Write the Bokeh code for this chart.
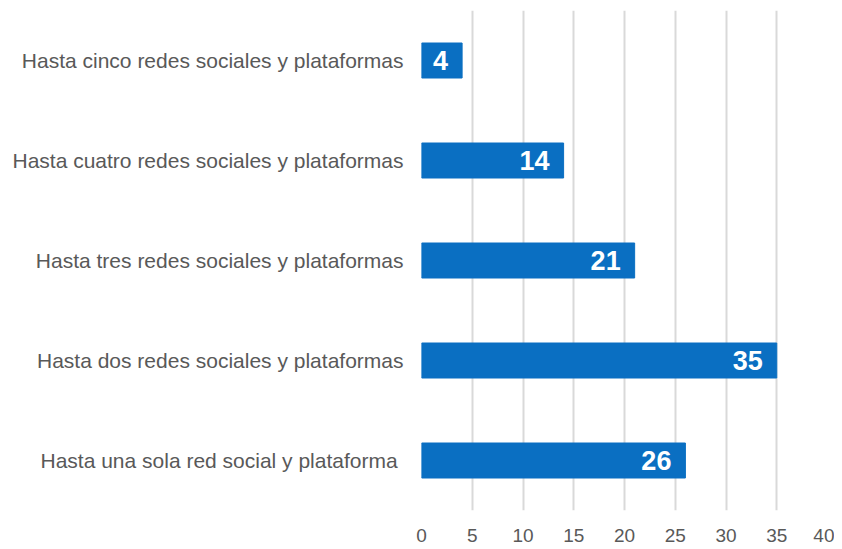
from bokeh.plotting import figure
from bokeh.models import ColumnDataSource, FactorRange, SingleIntervalTicker, LabelSet
from bokeh.core.properties import value
from bokeh.embed import file_html
from bokeh.resources import INLINE

categories = [
    "Hasta una sola  red social y plataforma",
    "Hasta dos redes sociales y plataformas",
    "Hasta tres redes sociales y plataformas",
    "Hasta cuatro redes sociales y plataformas",
    "Hasta cinco redes sociales y plataformas",
]
values = [26, 35, 21, 14, 4]
labels = [str(v) for v in values]

src = ColumnDataSource(dict(cat=categories, val=values, lab=labels))

p = figure(width=834, height=541, output_backend="svg", toolbar_location=None,
           y_range=FactorRange(*categories), x_range=(0, 40),
           min_border_left=421, min_border_right=7, min_border_top=10, min_border_bottom=31)
p.frame_width = 406
p.frame_height = 500

p.hbar(y="cat", right="val", left=0, height=0.35, source=src,
       fill_color="#0A6FC2", line_color="#0A6FC2")

p.add_layout(LabelSet(x="val", y="cat", text="lab", source=src, x_offset=-14,
                      text_align="right", text_baseline="middle",
                      text_color="white", text_font=value("Liberation Sans"),
                      text_font_style="bold", text_font_size="27px"))

p.outline_line_color = None
p.background_fill_color = "white"
p.border_fill_color = "white"

p.xaxis.ticker = SingleIntervalTicker(interval=5)
p.xaxis.axis_line_color = None
p.xaxis.major_tick_line_color = None
p.xaxis.minor_tick_line_color = None
p.xaxis.major_label_text_font = "Liberation Sans"
p.xaxis.major_label_text_font_size = "19px"
p.xaxis.major_label_text_color = "#595959"
p.xaxis.major_label_standoff = 12

p.yaxis.axis_line_color = None
p.yaxis.major_tick_line_color = None
p.yaxis.minor_tick_line_color = None
p.yaxis.major_label_text_font = "Liberation Sans"
p.yaxis.major_label_text_font_size = "21px"
p.yaxis.major_label_text_color = "#595959"
p.yaxis.major_label_standoff = 12

p.xgrid.grid_line_color = "#D9D9D9"
p.xgrid.grid_line_width = 2
p.ygrid.grid_line_color = None

open("out.html", "w").write(file_html(p, INLINE))
